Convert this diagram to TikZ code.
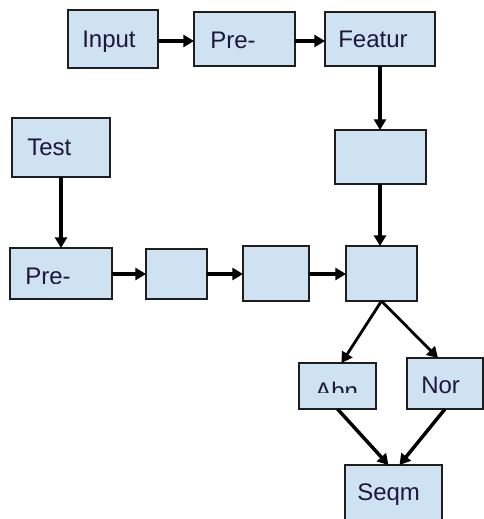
\documentclass[tikz,border=0pt]{standalone}
\usepackage{fontspec}
\setmainfont{Liberation Sans}
\usetikzlibrary{arrows.meta,fit,calc}
\definecolor{boxfill}{RGB}{207,226,242}
\definecolor{boxline}{RGB}{30,30,30}
\definecolor{txtcol}{RGB}{30,22,60}
\begin{document}
\begin{tikzpicture}[x=0.75pt,y=-0.75pt,
  box/.style={draw=boxline,fill=boxfill,line width=1.5pt,inner sep=0pt,outer sep=0pt},
  txt/.style={anchor=base west,inner sep=0pt,text=txtcol,font=\fontsize{18pt}{20pt}\selectfont},
  arr/.style={line width=2.6pt,-{Triangle[length=8pt,width=9pt]}}]
\useasboundingbox (0,0) rectangle (484,519);
% boxes
\node[box,fit={(68,10) (158,68)}] (input) {};
\node[box,fit={(194,12) (295,66)}] (pre1) {};
\node[box,fit={(325,12) (435,66)}] (featur) {};
\node[box,fit={(335,130) (426,184)}] (mid) {};
\node[box,fit={(12,118) (110,177)}] (test) {};
\node[box,fit={(10,248) (112,299)}] (pre2) {};
\node[box,fit={(146,249) (207,299)}] (ba) {};
\node[box,fit={(243,246) (309,301)}] (bb) {};
\node[box,fit={(346,246) (417,301)}] (bc) {};
\node[box,fit={(299,363) (376,409)}] (abn) {};
\node[box,fit={(407,358) (483,409)}] (nor) {};
\node[box,fit={(345,465) (442,530)}] (seqm) {};
% texts
\node[txt] (tinput) at (82,47) {Input};
\node[txt] (tpre1) at (210,48) {Pre-};
\node[txt] (tfeatur) at (338,47) {Featur};
\node[txt] (ttest) at (27,155) {Test};
\begin{scope}
\clip (10,248) rectangle (112,283.5);
\node[txt] (tpre2) at (25,284) {Pre-};
\end{scope}
\begin{scope}
\clip (299,363) rectangle (376,392);
\node[txt] (tabn) at (315,399) {Abn};
\end{scope}
\node[txt] (tnor) at (421,393) {Nor};
\node[txt] (tseqm) at (357,500) {Seqm};
% connectors
\draw[arr] ([yshift=-1.5pt]input.east) -- ([yshift=-1.5pt]pre1.west);
\draw[arr] ([yshift=-1.5pt]pre1.east) -- ([yshift=-1.5pt]featur.west);
\draw[arr] (featur.south) -- (featur.south |- mid.north);
\draw[arr] (mid.south -| featur.south) -- (featur.south |- bc.north);
\draw[arr] (test.south) -- (test.south |- pre2.north);
\draw[arr] (pre2.east |- ba.east) -- (ba.west);
\draw[arr] (ba.east) -- (ba.east -| bb.west);
\draw[arr] (bb.east |- ba.east) -- (ba.east -| bc.west);
\draw[arr,line width=2.1pt] (bc.south) -- ($(abn.north)+(4,0)$);
\draw[arr,line width=2.1pt] (bc.south) -- ($(nor.north)+(-7,0)$);
\draw[arr] (abn.south) -- ($(seqm.north)+(-5,0)$);
\draw[arr] (nor.south) -- ($(seqm.north)+(6,0)$);
\end{tikzpicture}
\end{document}
